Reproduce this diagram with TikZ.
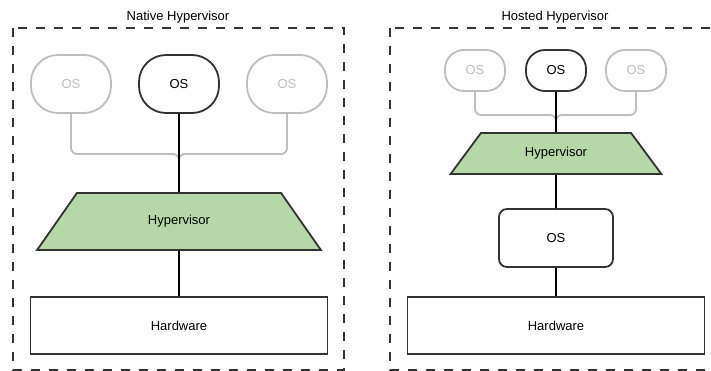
\documentclass[tikz,border=0pt]{standalone}
\usepackage{fontspec}
\setmainfont{Liberation Sans}
\usetikzlibrary{shapes.geometric}
\definecolor{edgegray}{RGB}{51,51,51}
\definecolor{osgray}{RGB}{190,190,190}
\definecolor{hvgreen}{RGB}{182,215,168}
\tikzstyle{frame}=[draw=edgegray,line width=1.8,dash pattern=on 9 off 9]
\tikzstyle{osbig}=[draw=edgegray,line width=1.8,rounded corners=27,minimum width=80,minimum height=58,inner sep=0pt]
\tikzstyle{ossmall}=[draw=edgegray,line width=1.8,rounded corners=19,minimum width=60,minimum height=41,inner sep=0pt]
\tikzstyle{ghost}=[draw=osgray,text=osgray]
\tikzstyle{hyper}=[trapezium,trapezium stretches=true,draw=edgegray,fill=hvgreen,line width=1.8,inner sep=0pt]
\tikzstyle{hw}=[draw=edgegray,line width=1.8,minimum width=297,minimum height=57,inner sep=0pt]
\tikzstyle{link}=[line width=1.8,black]
\tikzstyle{glink}=[line width=1.8,osgray,rounded corners=6]

\begin{document}
\begin{tikzpicture}[x=1pt,y=-1pt,font=\fontsize{13}{15}\selectfont]
\clip (0,0) rectangle (711,371);
% native
\node at (178, 17) (tn) {Native Hypervisor};
\draw[frame] (13, 28) rectangle (344, 370);
\node[osbig, ghost] at (71, 84) (osl) {OS};
\node[osbig] at (179, 84) (osc) {OS};
\node[osbig, ghost] at (287, 84) (osr) {OS};
\node[hyper, minimum width=286, minimum height=57, trapezium angle=45] at (179, 221.5) (hv) {Hypervisor};
\node[hw] at (179, 325.5) (hwl) {Hardware};
\coordinate (jn) at (179, 154);
\draw[glink] (osl.south) |- (jn) -- ++(0, 7);
\draw[glink] (osr.south) |- (jn) -- ++(0, 7);
\draw[link] (osc.south) -- (hv.north);
\draw[link] (hv.south) -- (hwl.north);
% hosted
\node at (555, 17) (th) {Hosted Hypervisor};
\draw[frame] (390, 28) rectangle (730, 370);
\node[ossmall, ghost] at (475, 70.5) (hosl) {OS};
\node[ossmall] at (556, 70.5) (hosc) {OS};
\node[ossmall, ghost] at (636, 70.5) (hosr) {OS};
\node[hyper, minimum width=212, minimum height=41, trapezium angle=44] at (556, 153.5) (hhv) {Hypervisor};
\node[draw=edgegray, line width=1.8, rounded corners=8, minimum width=114, minimum height=58] at (556, 238) (hos) {OS};
\node[hw] at (556, 325.5) (hwr) {Hardware};
\coordinate (hjn) at (556, 115);
\draw[glink] (hosl.south) |- (hjn) -- ++(0, 7);
\draw[glink] (hosr.south) |- (hjn) -- ++(0, 7);
\draw[link] (hosc.south) -- (hhv.north);
\draw[link] (hhv.south) -- (hos.north);
\draw[link] (hos.south) -- (hwr.north);
\end{tikzpicture}
\end{document}
